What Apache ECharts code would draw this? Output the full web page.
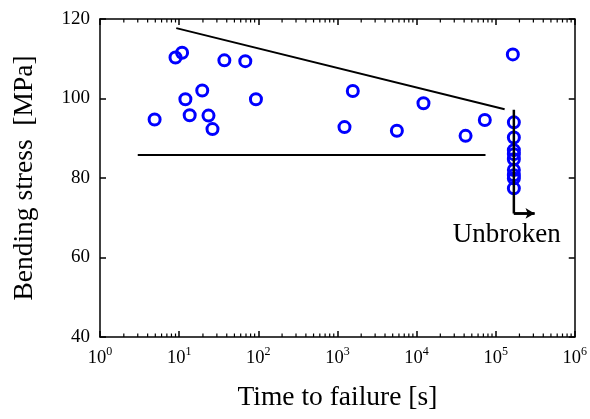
<!DOCTYPE html>
<html>
<head>
<meta charset="utf-8">
<script src="https://cdn.jsdelivr.net/npm/echarts@6/dist/echarts.min.js"></script>
<style>html,body{margin:0;padding:0;background:#fff}#c{width:590px;height:419px}</style>
</head>
<body>
<div id="c"></div>
<script>
// Failed specimens: time to failure [s], bending stress [MPa]
var failTime   = [4.9, 9.0, 10.9, 12.0, 13.6, 19.6, 23.5, 26.4, 37.3, 68.6, 93.5, 1230, 1567, 5650, 12250, 41700, 73000];
var failStress = [94.7, 110.3, 111.5, 99.8, 95.8, 102.0, 95.7, 92.3, 109.6, 109.4, 99.8, 92.8, 101.9, 91.9, 98.8, 90.6, 94.6];
// Unbroken (run-out) specimens
var unbrokenTime   = [165000, 170000, 170000, 170000, 170000, 170000, 170000, 170000, 170000, 170000];
var unbrokenStress = [111.1, 94.0, 90.2, 87.0, 86.0, 84.7, 82.0, 80.7, 79.9, 77.4];
// Guide lines
var upperLine = [[9.2, 117.7], [130000, 97.3]];
var lowerLine = [[3.0, 85.8], [74500, 85.8]];
var runoutLine = [[170000, 97.2], [170000, 71.1]];
var runoutArrow = [[170000, 71.1], [310000, 71.1]];
var unbrokenLabelPos = [138000, 65.8];
var unbrokenLabel = 'Unbroken';
// Axes
var xMin = 1, xMax = 1e6;
var yMin = 40, yMax = 120, yStep = 20;
var minorTickValues = [];
for (var n = 0; n < 6; n++) { for (var k = 2; k <= 9; k++) { minorTickValues.push(k * Math.pow(10, n)); } }

var serif = '"Liberation Serif","Times New Roman",serif';
var chart = echarts.init(document.getElementById('c'), null, {renderer: 'canvas'});

function zip(a, b) { return a.map(function (v, i) { return [v, b[i]]; }); }

var axisLineStyle = {color: '#000', width: 1.5};
var circleStyle = {color: 'rgba(255,255,255,0)', borderColor: '#0000ff', borderWidth: 3, opacity: 1};
var option = {
  animation: false,
  backgroundColor: '#fff',
  grid: {left: 100, right: 15, top: 19, bottom: 82, containLabel: false},
  xAxis: [{
    type: 'log', logBase: 10, min: xMin, max: xMax, splitNumber: 6,
    position: 'bottom',
    name: 'Time to failure [s]', nameLocation: 'middle', nameGap: 47,
    nameTextStyle: {fontFamily: serif, fontSize: 27.5, color: '#000'},
    axisLine: {show: true, lineStyle: axisLineStyle},
    axisTick: {show: true, inside: true, length: 6, lineStyle: axisLineStyle},
    splitLine: {show: false},
    axisLabel: {
      margin: 9, color: '#000', fontFamily: serif,
      formatter: function (v) { return '{b|10}{s|' + Math.round(Math.log10(v)) + '}'; },
      rich: {
        b: {fontFamily: serif, fontSize: 18.5, color: '#000', lineHeight: 22, verticalAlign: 'bottom'},
        s: {fontFamily: serif, fontSize: 12, color: '#000', lineHeight: 22, verticalAlign: 'top', padding: [0, 0, 12, 0]}
      }
    }
  }, {
    type: 'log', logBase: 10, min: xMin, max: xMax, splitNumber: 6,
    position: 'top',
    axisLine: {show: true, lineStyle: axisLineStyle},
    axisTick: {show: true, inside: true, length: 6, lineStyle: axisLineStyle},
    axisLabel: {show: false}, splitLine: {show: false}
  }],
  yAxis: [{
    type: 'value', min: yMin, max: yMax, interval: yStep,
    position: 'left',
    name: 'Bending stress  [MPa]', nameLocation: 'middle', nameGap: 61, nameRotate: 90,
    nameTextStyle: {fontFamily: serif, fontSize: 27.5, color: '#000'},
    axisLine: {show: true, lineStyle: axisLineStyle},
    axisTick: {show: true, inside: true, length: 6, lineStyle: axisLineStyle},
    splitLine: {show: false},
    axisLabel: {margin: 10, color: '#000', fontFamily: serif, fontSize: 19}
  }, {
    type: 'value', min: yMin, max: yMax, interval: yStep,
    position: 'right',
    axisLine: {show: true, lineStyle: axisLineStyle},
    axisTick: {show: true, inside: true, length: 6, lineStyle: axisLineStyle},
    axisLabel: {show: false}, splitLine: {show: false}
  }],
  series: [
    {
      type: 'custom', name: 'minorTicks', silent: true, clip: false,
      data: minorTickValues.map(function (v) { return [v]; }),
      encode: {x: 0},
      renderItem: function (params, api) {
        var v = api.value(0);
        var b = api.coord([v, yMin]);
        var t = api.coord([v, yMax]);
        var st = {stroke: '#000', lineWidth: 1.2};
        return {type: 'group', children: [
          {type: 'line', shape: {x1: b[0], y1: b[1], x2: b[0], y2: b[1] - 3.5}, style: st},
          {type: 'line', shape: {x1: t[0], y1: t[1], x2: t[0], y2: t[1] + 3.5}, style: st}
        ]};
      }
    },
    {type: 'line', data: upperLine, symbol: 'none', lineStyle: {color: '#000', width: 2}, silent: true},
    {type: 'line', data: lowerLine, symbol: 'none', lineStyle: {color: '#000', width: 2}, silent: true},
    {type: 'line', data: runoutLine, symbol: 'none', lineStyle: {color: '#000', width: 2.5}, silent: true, z: 5},
    {type: 'line', data: runoutArrow, symbol: 'none', lineStyle: {color: '#000', width: 2.5}, silent: true, z: 5,
      markLine: {silent: true, symbol: ['none', 'arrow'], symbolSize: [8, 9],
        label: {show: false}, lineStyle: {color: '#000', width: 2.5, type: 'solid'},
        data: [[{coord: runoutArrow[0]}, {coord: runoutArrow[1]}]]}
    },
    {type: 'scatter', name: 'failed', data: zip(failTime, failStress), symbol: 'circle', symbolSize: 11,
      itemStyle: circleStyle, z: 4},
    {type: 'scatter', name: 'unbroken', data: zip(unbrokenTime, unbrokenStress), symbol: 'circle', symbolSize: 11,
      itemStyle: circleStyle, z: 4},
    {type: 'scatter', data: [unbrokenLabelPos], symbolSize: 0, silent: true, itemStyle: {opacity: 1},
      label: {show: true, position: 'inside', formatter: unbrokenLabel, fontFamily: serif, fontSize: 27, color: '#000'}}
  ]
};
chart.setOption(option);
</script>
</body>
</html>
